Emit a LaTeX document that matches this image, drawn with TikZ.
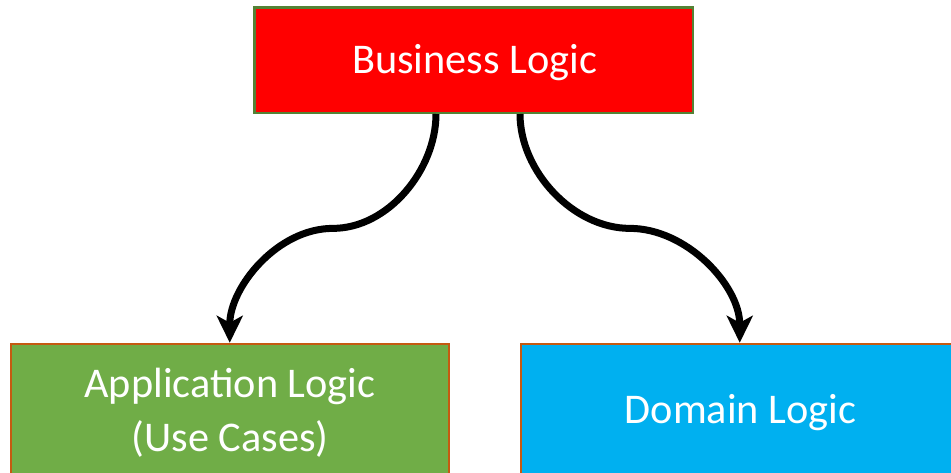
\documentclass[tikz,border=0pt]{standalone}
\usepackage{fontspec}
\setmainfont{Carlito}
\usetikzlibrary{arrows.meta,calc}

\definecolor{bizred}{HTML}{FF0000}
\definecolor{bizline}{HTML}{548235}
\definecolor{appgreen}{HTML}{70AD47}
\definecolor{domblue}{HTML}{00B0F0}
\definecolor{boxline}{HTML}{C55A11}

\tikzset{
  box/.style={rectangle, draw, line width=2.5pt, inner sep=0pt},
  lbl/.style={text=white, font=\fontsize{42.3}{54}\selectfont, inner sep=0pt, align=center},
  link/.style={line width=7pt, -{Stealth[length=27pt,width=26pt,inset=7pt]}},
}

\begin{document}
\begin{tikzpicture}[x=1pt,y=-1pt]
  \useasboundingbox (0,0) rectangle (951,472);
  \clip (0,0) rectangle (951,472);

  % boxes
  \node[box, fill=bizred, draw=bizline, minimum width=438.5pt, minimum height=105.5pt]
    (biz) at (473.5,60) {};
  \node[box, fill=appgreen, draw=boxline, minimum width=438pt, minimum height=155pt]
    (app) at (229.75,421.5) {};
  \node[box, fill=domblue, draw=boxline, minimum width=438pt, minimum height=155pt]
    (dom) at (739.75,421.5) {};

  % labels
  \node[lbl, anchor=base] (biztxt) at (474.5,73) {Business Logic};
  \node[lbl] (apptxt) at (230,412.5) {Application Logic\\(Use Cases)};
  \node[lbl, anchor=base] (domtxt) at (740.5,423) {Domain Logic};

  % connectors
  \coordinate (ls) at ([xshift=-37.5pt]biz.south);
  \coordinate (rs) at ([xshift=46.5pt]biz.south);
  \coordinate (lm) at ($(ls)!0.5!(app.north)$);
  \coordinate (rm) at ($(rs)!0.5!(dom.north)$);
  \draw[link] (ls) to[out=-90,in=0,looseness=0.92] (lm)
                   to[out=180,in=90,looseness=0.92] (app.north);
  \draw[link] (rs) to[out=-90,in=180,looseness=0.92] (rm)
                   to[out=0,in=90,looseness=0.92] (dom.north);
\end{tikzpicture}
\end{document}
